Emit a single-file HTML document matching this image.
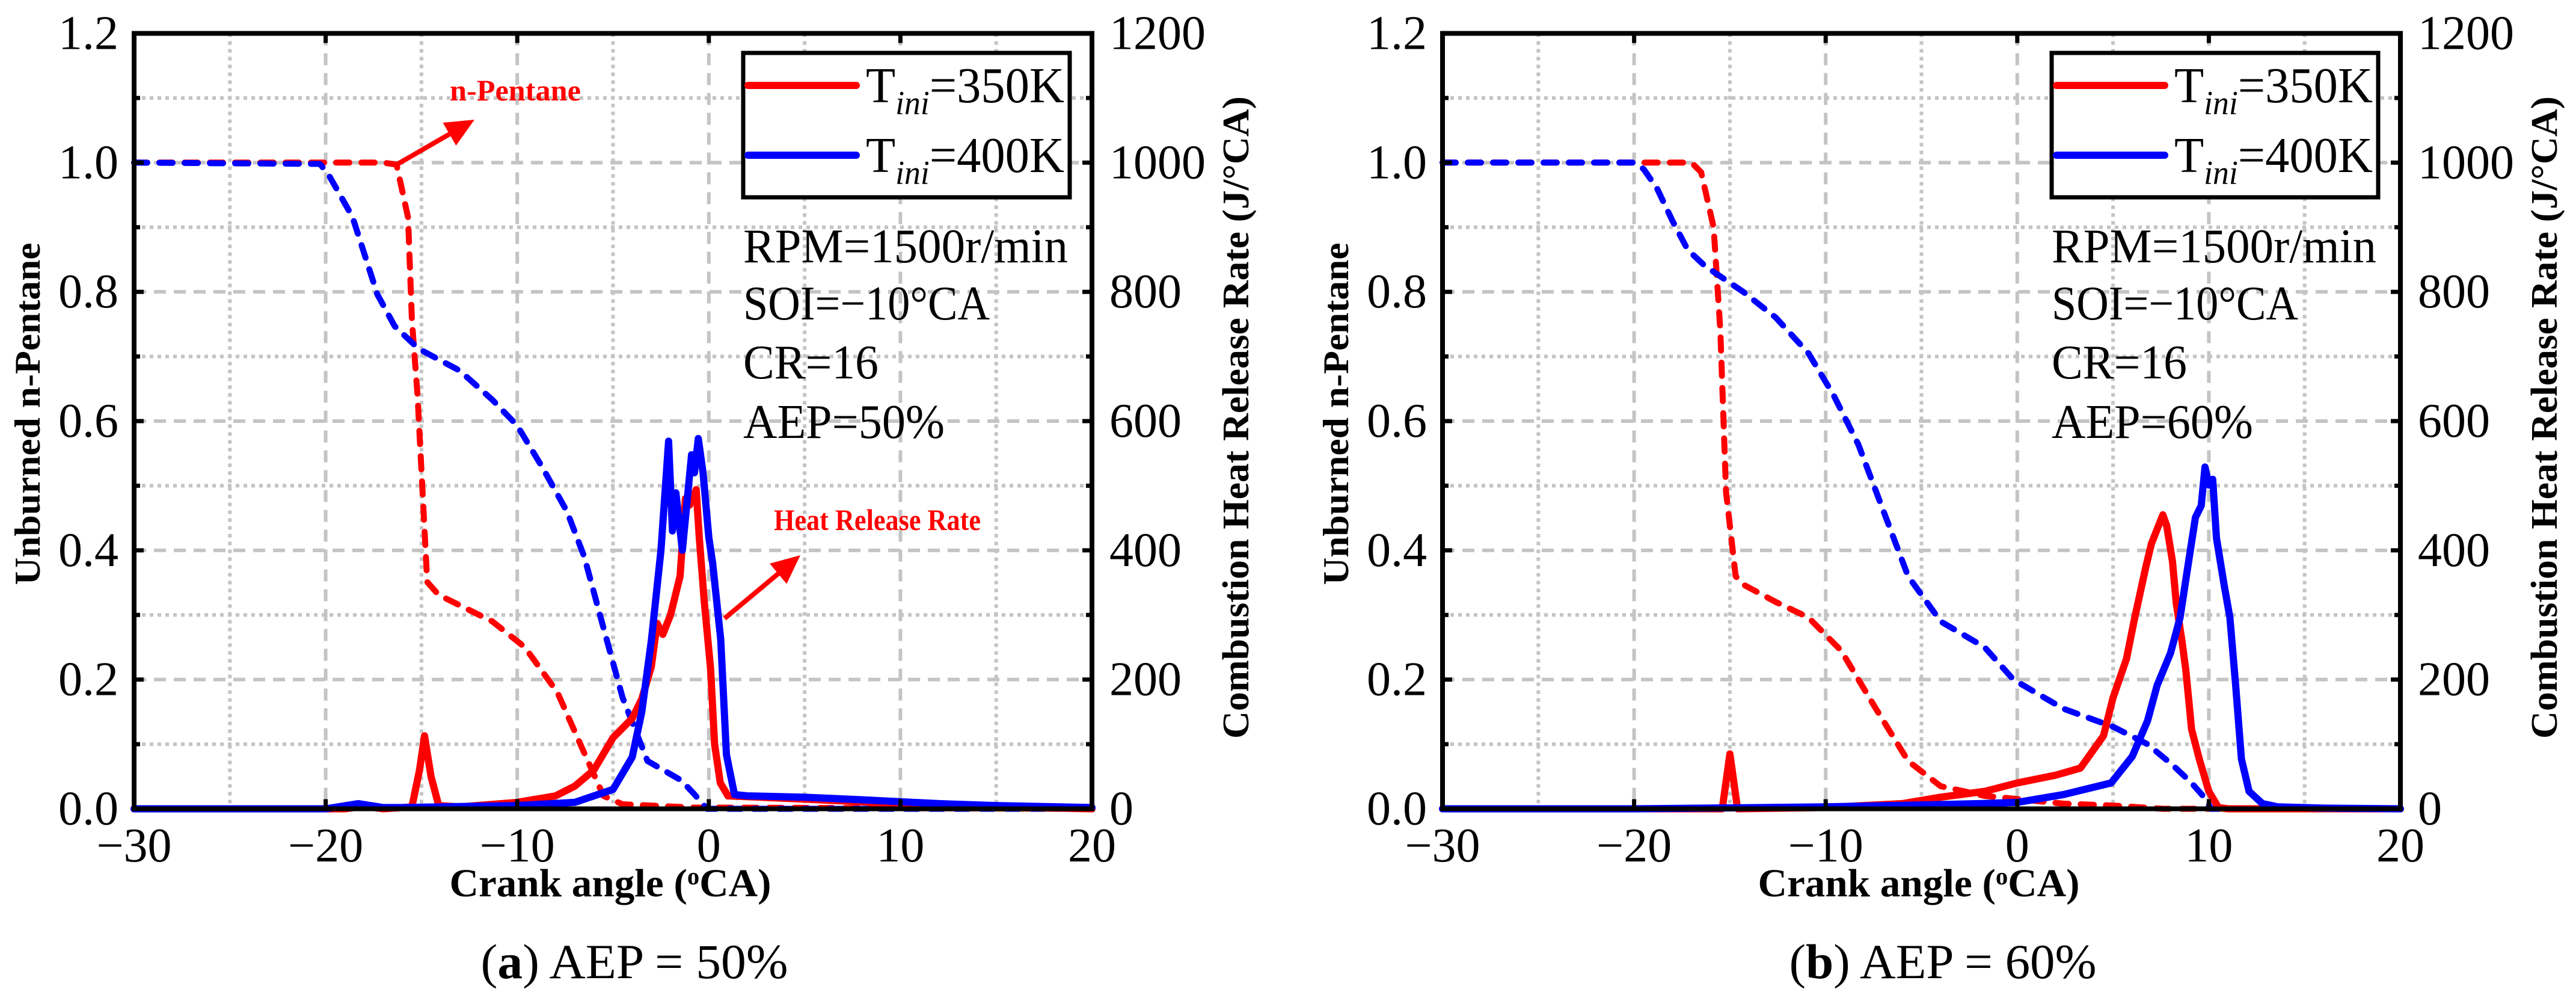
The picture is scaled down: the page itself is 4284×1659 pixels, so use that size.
<!DOCTYPE html>
<html><head><meta charset="utf-8"><style>
html,body{margin:0;padding:0;background:#fff;}
svg{display:block;}
text{font-family:"Liberation Serif","Times New Roman",serif;}
</style></head><body>
<svg id="chart" width="4284" height="1659" viewBox="0 0 4284 1659" xmlns="http://www.w3.org/2000/svg"></svg>
<script>
// ---- data (x in °CA; unburned fraction; HRR in J/°CA) ----
const xTicks = [-30, -20, -10, 0, 10, 20];
const yLeftTicks = ["0.0", "0.2", "0.4", "0.6", "0.8", "1.0", "1.2"];
const yRightTicks = ["0", "200", "400", "600", "800", "1000", "1200"];

// panel a
const aRedDashX = [-30, -17, -16.3, -15.7, -15.5, -15.2, -14.7, -14.1, -11.3, -9.6, -7.9, -6.6, -5.5, -4.5, -0.8, 20];
const aRedDashY = [1.0, 1.0, 0.997, 0.915, 0.757, 0.638, 0.351, 0.331, 0.29, 0.25, 0.18, 0.093, 0.02, 0.007, 0.002, 0];
const aBlueDashX = [-30, -20.3, -19.9, -18.6, -17.3, -16.4, -15.15, -13.0, -11.3, -10.0, -8.7, -7.4, -6.5, -5.5, -4.5, -3.2, -1.44, -0.8, -0.1, 20];
const aBlueDashY = [1.0, 0.998, 0.984, 0.916, 0.796, 0.747, 0.712, 0.678, 0.633, 0.593, 0.529, 0.46, 0.39, 0.28, 0.172, 0.074, 0.044, 0.024, 0, 0];
const aRedHrrX = [-30, -19, -18, -17, -15.5, -15.1, -14.84, -14.5, -14.1, -13, -10, -8, -7, -6, -5, -4, -3.5, -3, -2.7, -2.4, -2, -1.5, -1.22, -1, -0.66, -0.5, -0.24, 0.09, 0.3, 0.6, 1, 5, 10, 15, 20];
const aRedHrrY = [0, 0, 4, 0, 3, 60, 113, 50, 5, 3, 10, 20, 35, 60, 110, 140, 170, 220, 287, 270, 300, 360, 480, 470, 494, 420, 321, 217, 100, 40, 20, 15, 8, 3, 0];
const aBlueHrrX = [-30, -20, -18.3, -17, -16, -10, -7, -5, -4, -3.5, -3, -2.5, -2.1, -1.9, -1.72, -1.38, -0.9, -0.75, -0.55, -0.3, 0, 0.2, 0.62, 0.92, 1.34, 2, 5, 8, 12, 15, 20];
const aBlueHrrY = [0, 0, 8, 2, 2, 5, 10, 30, 80, 150, 260, 400, 569, 430, 489, 400, 548, 520, 573, 520, 420, 380, 262, 84, 22, 20, 18, 14, 8, 5, 2];

// panel b
const bRedDashX = [-30, -17, -16.5, -15.85, -15.5, -15.2, -14.7, -14.3, -12.6, -10.9, -9.2, -7.4, -5.7, -4.0, -1.7, 2.4, 5.0, 7.6, 20];
const bRedDashY = [1.0, 1.0, 0.985, 0.9, 0.74, 0.49, 0.36, 0.347, 0.32, 0.296, 0.245, 0.156, 0.074, 0.035, 0.02, 0.008, 0.005, 0, 0];
const bBlueDashX = [-30, -20, -19.5, -18.8, -18.0, -17.2, -16.3, -14.3, -12.6, -10.9, -9.6, -8.3, -7.0, -5.7, -4.0, -1.7, -0.2, 2.4, 5.0, 6.8, 8.1, 9.1, 9.9, 10.1, 20];
const bBlueDashY = [1.0, 1.0, 0.99, 0.96, 0.91, 0.865, 0.84, 0.8, 0.76, 0.705, 0.641, 0.564, 0.462, 0.36, 0.29, 0.25, 0.2, 0.155, 0.127, 0.1, 0.068, 0.04, 0.013, 0, 0];
const bRedHrrX = [-30, -15.4, -15.0, -14.6, -10, -6, -4, -1.7, 0, 2, 3.3, 4.5, 5.0, 5.7, 6.1, 6.7, 7.0, 7.6, 7.8, 8.1, 8.3, 8.6, 8.8, 9.1, 9.5, 10.0, 10.5, 11, 20];
const bRedHrrY = [0, 0, 85, 0, 2, 8, 18, 27, 40, 52, 63, 113, 172, 232, 291, 373, 410, 455, 438, 383, 318, 259, 214, 123, 77, 27, 2, 0, 0];
const bBlueHrrX = [-30, -20, -10, -5, -2, 0, 2.4, 4.9, 6.0, 6.8, 7.3, 8.0, 8.5, 8.8, 9.3, 9.6, 9.8, 10.0, 10.2, 10.4, 10.8, 11.1, 11.4, 11.7, 12.1, 12.8, 13.6, 16, 20];
const bBlueHrrY = [0, 0, 3, 6, 8, 10, 22, 40, 81, 136, 191, 241, 296, 355, 451, 469, 529, 501, 510, 419, 346, 296, 191, 77, 27, 8, 3, 1, 0];

// ---- layout ----
const NS = "http://www.w3.org/2000/svg";
const svg = document.getElementById("chart");
const PX0 = 223, PX1 = 1816, PY0 = 1344.5, PY1 = 55.5;

function mk(tag, attrs, parent, txt) {
  const e = document.createElementNS(NS, tag);
  for (const k in attrs) e.setAttribute(k, attrs[k]);
  if (txt !== undefined) e.textContent = txt;
  (parent || svg).appendChild(e);
  return e;
}

function panel(dx, data, label, aep, annot) {
  const g = mk("g", {transform: "translate(" + dx + ",0)"});
  
  
  const xs = v => PX0 + (v + 30) / 50 * (PX1 - PX0);
  const yl = v => PY0 - v / 1.2 * (PY0 - PY1);
  const yr = v => PY0 - v / 1200 * (PY0 - PY1);

  const grid = mk("g", {}, g);
  
  
  for (let v = -25; v < 20; v += 5) {
    const major = v % 10 === 0;
    const l = mk("line", {x1: xs(v), x2: xs(v), y1: PY1, y2: PY0, stroke: "#c4c4c4", "stroke-width": 6,
      "stroke-dasharray": major ? "20 13" : "6 7"}, grid);
    
    
  }
  for (let i = 1; i < 12; i++) {
    const major = i % 2 === 0;
    const l = mk("line", {x1: PX0, x2: PX1, y1: yl(i / 10), y2: yl(i / 10), stroke: "#c4c4c4", "stroke-width": 6,
      "stroke-dasharray": major ? "20 13" : "6 7"}, grid);
    
    
  }

  function line(xsA, ysA, scaleY, color, dashed, name) {
    const pts = xsA.map((x, i) => xs(x).toFixed(1) + "," + scaleY(ysA[i]).toFixed(1)).join(" ");
    const p = mk("polyline", {points: pts, fill: "none", stroke: color, "stroke-width": dashed ? 10 : 12,
      "stroke-linejoin": "round", "stroke-linecap": "round", "stroke-dasharray": dashed ? "22 20" : "none"}, g);
    
    
  }
  line(data.rdx, data.rdy, yl, "#ff0000", true, "unburned-350k-line");
  line(data.bdx, data.bdy, yl, "#0000ff", true, "unburned-400k-line");
  line(data.rhx, data.rhy, yr, "#ff0000", false, "hrr-350k-line");
  line(data.bhx, data.bhy, yr, "#0000ff", false, "hrr-400k-line");

  const fr = mk("rect", {x: PX0, y: PY1, width: PX1 - PX0, height: PY0 - PY1, fill: "none", stroke: "#000", "stroke-width": 8}, g);
  
  
  xTicks.forEach(v => {
    mk("line", {x1: xs(v), x2: xs(v), y1: PY0, y2: PY0 - 16, stroke: "#000", "stroke-width": 7}, g);
    mk("line", {x1: xs(v), x2: xs(v), y1: PY1, y2: PY1 + 16, stroke: "#000", "stroke-width": 7}, g);
    const t = mk("text", {x: xs(v), y: 1432, "font-size": 80, "text-anchor": "middle"}, g, v < 0 ? "\u2212" + Math.abs(v) : String(v));
    
    
  });
  yLeftTicks.forEach((s, i) => {
    const y = yl(i * 0.2);
    mk("line", {x1: PX0, x2: PX0 + 16, y1: y, y2: y, stroke: "#000", "stroke-width": 7}, g);
    mk("line", {x1: PX1, x2: PX1 - 16, y1: y, y2: y, stroke: "#000", "stroke-width": 7}, g);
    const t = mk("text", {x: 197, y: y + 26, "font-size": 80, "text-anchor": "end"}, g, s);
    
    
  });
  yRightTicks.forEach((s, i) => {
    const y = yr(i * 200);
    const t = mk("text", {x: 1845, y: y + 26, "font-size": 80, "text-anchor": "start"}, g, s);
    
    
  });
  for (let i = 1; i < 12; i += 2) {
    const y = yl(i / 10);
    mk("line", {x1: PX0, x2: PX0 + 10, y1: y, y2: y, stroke: "#000", "stroke-width": 7}, g);
    mk("line", {x1: PX1, x2: PX1 - 10, y1: y, y2: y, stroke: "#000", "stroke-width": 7}, g);
  }

  let t = mk("text", {x: 0, y: 0, transform: "translate(66,688) rotate(-90)", "font-size": 60, "font-weight": "bold", "text-anchor": "middle", textLength: 569, lengthAdjust: "spacingAndGlyphs"}, g, "Unburned n-Pentane");
  
  
  t = mk("text", {x: 0, y: 0, transform: "translate(2076,694) rotate(-90)", "font-size": 62, "font-weight": "bold", "text-anchor": "middle", textLength: 1068, lengthAdjust: "spacingAndGlyphs"}, g, "Combustion Heat Release Rate (J/\u00B0CA)");
  
  
  t = mk("text", {x: 1015, y: 1490, "font-size": 66, "font-weight": "bold", "text-anchor": "middle", textLength: 535, lengthAdjust: "spacingAndGlyphs"}, g);
  t.innerHTML = 'Crank angle  (<tspan font-size="40" dy="-20">o</tspan><tspan dy="20">CA)</tspan>';
  
  
  t = mk("text", {x: 1055, y: 1626, "font-size": 82, "text-anchor": "middle", textLength: 511, lengthAdjust: "spacingAndGlyphs"}, g);
  t.innerHTML = '(<tspan font-weight="bold">' + label + '</tspan>) AEP = ' + aep + '%';
  
  

  const lg = mk("g", {}, g);
  
  
  mk("rect", {x: 1236, y: 88, width: 543, height: 240, fill: "#fff", stroke: "#000", "stroke-width": 7}, lg);
  [["#ff0000", 142, "350K"], ["#0000ff", 258, "400K"]].forEach(r => {
    const ln = mk("line", {x1: 1244, x2: 1424, y1: r[1], y2: r[1], stroke: r[0], "stroke-width": 12, "stroke-linecap": "round"}, lg);
    
    
    const tx = mk("text", {x: 1440, y: r[1] + 28, "font-size": 84, textLength: 330, lengthAdjust: "spacingAndGlyphs"}, lg);
    tx.innerHTML = 'T<tspan font-style="italic" font-size="56" dy="20">ini</tspan><tspan dy="-20">=' + r[2] + '</tspan>';
    
    
  });

  const lens = [540, 410, 225, 335];
  ["RPM=1500r/min", "SOI=\u221210\u00B0CA", "CR=16", "AEP=" + aep + "%"].forEach((s, i) => {
    const tx = mk("text", {x: 1236, y: [436, 531, 629, 728][i], "font-size": 80, textLength: lens[i], lengthAdjust: "spacingAndGlyphs"}, g, s);
    
    
  });

  if (annot) {
    let a = mk("text", {x: 748, y: 167, "font-size": 50, "font-weight": "bold", fill: "#ff0000", textLength: 218, lengthAdjust: "spacingAndGlyphs"}, g, "n-Pentane");
    
    
    a = mk("text", {x: 1287, y: 881, "font-size": 50, "font-weight": "bold", fill: "#ff0000", textLength: 344, lengthAdjust: "spacingAndGlyphs"}, g, "Heat Release Rate");
    
    
    [[659, 274, 789, 199, "n-pentane-arrow"], [1205, 1028, 1331, 923, "hrr-arrow"]].forEach(r => {
      const ang = Math.atan2(r[3] - r[1], r[2] - r[0]);
      const bx = r[2] - 48 * Math.cos(ang), by = r[3] - 48 * Math.sin(ang);
      const ag = mk("g", {}, g);
      
      
      mk("line", {x1: r[0], y1: r[1], x2: bx, y2: by, stroke: "#ff0000", "stroke-width": 8}, ag);
      const px = -Math.sin(ang) * 22, py = Math.cos(ang) * 22;
      mk("polygon", {points: r[2] + "," + r[3] + " " + (bx + px) + "," + (by + py) + " " + (bx - px) + "," + (by - py), fill: "#ff0000"}, ag);
    });
  }
}

panel(0, {rdx: aRedDashX, rdy: aRedDashY, bdx: aBlueDashX, bdy: aBlueDashY, rhx: aRedHrrX, rhy: aRedHrrY, bhx: aBlueHrrX, bhy: aBlueHrrY}, "a", 50, true);
panel(2176, {rdx: bRedDashX, rdy: bRedDashY, bdx: bBlueDashX, bdy: bBlueDashY, rhx: bRedHrrX, rhy: bRedHrrY, bhx: bBlueHrrX, bhy: bBlueHrrY}, "b", 60, false);
</script>
</body></html>
